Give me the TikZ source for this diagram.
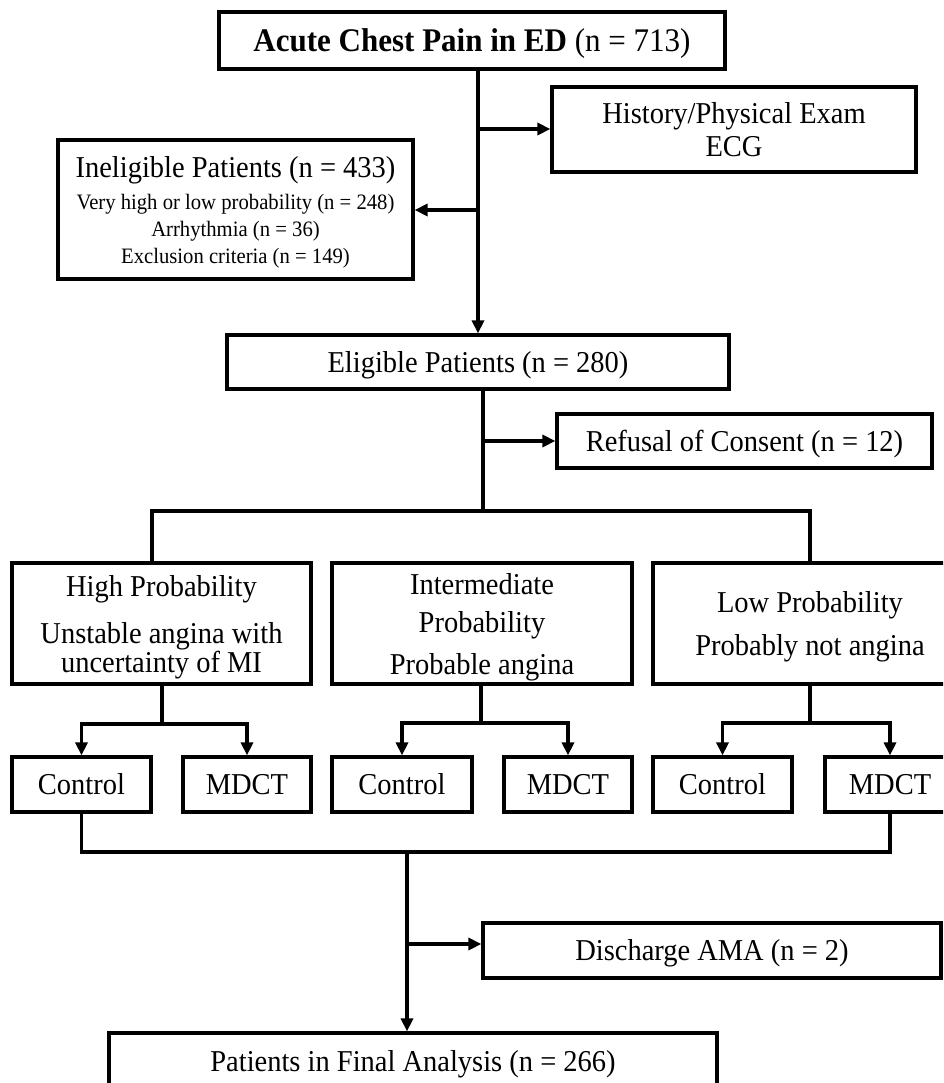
\documentclass[tikz,border=0pt]{standalone}
\usepackage{fontspec}
\setmainfont[FakeStretch=0.94]{Liberation Serif}
\usetikzlibrary{arrows.meta}
\newcommand\fsmain{\fontsize{30.3}{29}\selectfont}
\newcommand\fssmall{\fontsize{22}{27}\selectfont}
\newcommand\fstop{\fontsize{33}{32}\selectfont}
\tikzset{
  box/.style={draw, line width=3.2pt, rectangle, inner sep=0pt, align=center, font=\fsmain},
  one/.style={text height=20.5pt, text depth=0.5pt},
  multi/.style={text depth=0pt},
  conn/.style={line width=3.2pt},
  arr/.style={conn, -{Triangle[length=13pt,width=12pt]}},
}
\begin{document}
\begin{tikzpicture}[x=1pt,y=-1pt]
\useasboundingbox (0,0) rectangle (943,1083);
\clip (0,0) rectangle (943,1083);
\fill[white] (0,0) rectangle (943,1083);

% nodes
\node[box, font=\fstop, text height=22pt, text depth=0.5pt, minimum width=506, minimum height=57] (top) at (472,40.5)
  {\textbf{Acute Chest Pain in ED} (n = 713)};
\node[box, multi, minimum width=364, minimum height=85] (hist) at (734,129.5)
  {History/Physical Exam\\[4pt]ECG};
\node[box, multi, font=\fssmall, minimum width=355, minimum height=139] (inel) at (235.5,209.5)
  {{\fsmain Ineligible Patients (n = 433)}\\[5pt]Very high or low probability (n = 248)\\Arrhythmia (n = 36)\\Exclusion criteria (n = 149)};
\node[box, one, minimum width=502, minimum height=54] (elig) at (478,362)
  {Eligible Patients (n = 280)};
\node[box, one, minimum width=375, minimum height=54] (ref) at (744.5,441)
  {Refusal of Consent (n = 12)};
\node[box, multi, minimum width=299, minimum height=121] (high) at (161.5,623.5)
  {High Probability\\[18pt]Unstable angina with\\uncertainty of MI};
\node[box, multi, minimum width=300, minimum height=121] (inter) at (482,623.5)
  {Intermediate\\[9pt]Probability\\[13pt]Probable angina};
\node[box, multi, minimum width=314, minimum height=121] (low) at (810,623.5)
  {Low Probability\\[14pt]Probably not angina};
\node[box, one, minimum width=139, minimum height=55] (c1) at (81.5,784.5) {Control};
\node[box, one, minimum width=128, minimum height=55] (m1) at (247,784.5) {MDCT};
\node[box, one, minimum width=140, minimum height=55] (c2) at (402,784.5) {Control};
\node[box, one, minimum width=128, minimum height=55] (m2) at (568,784.5) {MDCT};
\node[box, one, minimum width=139, minimum height=55] (c3) at (722.5,784.5) {Control};
\node[box, one, minimum width=130, minimum height=55] (m3) at (890,784.5) {MDCT};
\node[box, one, minimum width=458, minimum height=55] (dis) at (712,950.5) {Discharge AMA (n = 2)};
\node[box, one, minimum width=608, minimum height=57] (fin) at (413,1061.5)
  {Patients in Final Analysis (n = 266)};

% junction coordinates
\coordinate (hj1) at (478,129);
\coordinate (ij) at (478,210);
\coordinate (ej) at (483,511);
\coordinate (rj) at (483,441);
\coordinate (hl) at (152,511);
\coordinate (hjA) at (162,724);
\coordinate (hjB) at (481,723);
\coordinate (hjC) at (810,723);
\coordinate (bj) at (407,852);
\coordinate (dj) at (407,944);

% connectors
\draw[arr] (top.south -| elig.north) -- (elig.north);
\draw[arr] (hj1) -- (hist.west |- hj1);
\draw[arr] (ij) -- (inel.east |- ij);

\draw[conn] (ej |- elig.south) -- (ej);
\draw[arr] (rj) -- (ref.west |- rj);
\draw[conn] (hl |- high.north) -- (hl) -- (ej) -| (low.north);

\draw[conn] (hjA |- high.south) -- (hjA);
\draw[arr] (hjA) -| (c1.north);
\draw[arr] (hjA) -| (m1.north);
\draw[conn] (hjB |- inter.south) -- (hjB);
\draw[arr] (hjB) -| (c2.north);
\draw[arr] (hjB) -| (m2.north);
\draw[conn] (hjC |- low.south) -- (hjC);
\draw[arr] (hjC) -| (c3.north);
\draw[arr] (hjC) -| (m3.north);

\draw[conn] (c1.south) |- (bj) -| (m3.south);
\draw[arr] (bj) -- (bj |- fin.north);
\draw[arr] (dj) -- (dis.west |- dj);
\end{tikzpicture}
\end{document}
